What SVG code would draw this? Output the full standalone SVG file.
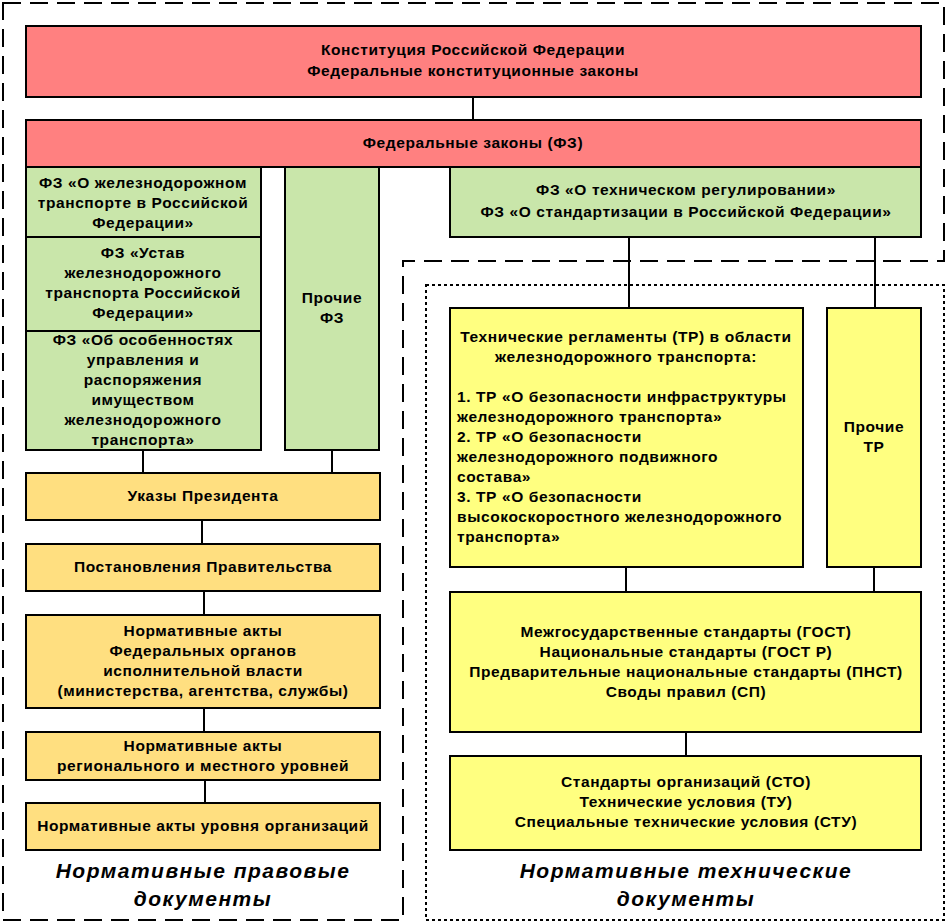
<svg xmlns="http://www.w3.org/2000/svg" width="947" height="924" viewBox="0 0 947 924">
<style>
.b{stroke:#000;stroke-width:2}
.red{fill:#FF8080}
.grn{fill:#C9E6AA}
.org{fill:#FFDF80}
.yel{fill:#FFFF80}
text{font-family:"Liberation Sans",Arial,sans-serif;font-weight:bold;font-size:15.5px;letter-spacing:0.6px;fill:#000}
.c{text-anchor:middle}
.lbl{font-size:21px;letter-spacing:1.5px;font-style:italic;text-anchor:middle}
.ln{stroke:#000;stroke-width:2;fill:none}
</style>
<rect width="947" height="924" fill="#fff"/>
<g id="frames">
<path d="M3,3 H944 V261 H403 V920 H3 Z" fill="none" stroke="#000" stroke-width="2" stroke-dasharray="18,9"/>
<rect x="426" y="285" width="518" height="635" fill="none" stroke="#000" stroke-width="2" stroke-dasharray="3,3"/>
</g>
<g id="connectors">
<line class="ln" x1="473" y1="97" x2="473" y2="120"/>
<line class="ln" x1="143" y1="450" x2="143" y2="473"/>
<line class="ln" x1="332" y1="450" x2="332" y2="473"/>
<line class="ln" x1="202" y1="520" x2="202" y2="544"/>
<line class="ln" x1="204" y1="591" x2="204" y2="615"/>
<line class="ln" x1="204" y1="708" x2="204" y2="732"/>
<line class="ln" x1="205" y1="780" x2="205" y2="803"/>
<line class="ln" x1="629" y1="237" x2="629" y2="308"/>
<line class="ln" x1="875" y1="237" x2="875" y2="308"/>
<line class="ln" x1="626" y1="567" x2="626" y2="592"/>
<line class="ln" x1="874" y1="567" x2="874" y2="592"/>
<line class="ln" x1="686" y1="732" x2="686" y2="756"/>
</g>
<g id="constitution">
<rect class="b red" x="26" y="26" width="895" height="71"/>
<text class="c" x="473" y="55">Конституция Российской Федерации</text>
<text class="c" x="473" y="76">Федеральные конституционные законы</text>
</g>
<g id="fz">
<rect class="b red" x="26" y="120" width="895" height="47"/>
<text class="c" x="473" y="148">Федеральные законы (ФЗ)</text>
</g>
<g id="fz-rail">
<rect class="b grn" x="26" y="167" width="235" height="70"/>
<text class="c" x="143" y="188">ФЗ «О железнодорожном</text>
<text class="c" x="143" y="208">транспорте в Российской</text>
<text class="c" x="143" y="228">Федерации»</text>
</g>
<g id="fz-ustav">
<rect class="b grn" x="26" y="237" width="235" height="94"/>
<text class="c" x="143" y="258">ФЗ «Устав</text>
<text class="c" x="143" y="278">железнодорожного</text>
<text class="c" x="143" y="298">транспорта Российской</text>
<text class="c" x="143" y="318">Федерации»</text>
</g>
<g id="fz-property">
<rect class="b grn" x="26" y="331" width="235" height="119"/>
<text class="c" x="143" y="345">ФЗ «Об особенностях</text>
<text class="c" x="143" y="365">управления и</text>
<text class="c" x="143" y="385">распоряжения</text>
<text class="c" x="143" y="405">имуществом</text>
<text class="c" x="143" y="425">железнодорожного</text>
<text class="c" x="143" y="445">транспорта»</text>
</g>
<g id="fz-other">
<rect class="b grn" x="285" y="167" width="94" height="283"/>
<text class="c" x="332" y="303">Прочие</text>
<text class="c" x="332" y="323">ФЗ</text>
</g>
<g id="fz-tech">
<rect class="b grn" x="450" y="167" width="471" height="70"/>
<text class="c" x="686" y="195">ФЗ «О техническом регулировании»</text>
<text class="c" x="686" y="217">ФЗ «О стандартизации в Российской Федерации»</text>
</g>
<g id="ukazy">
<rect class="b org" x="26" y="473" width="354" height="47"/>
<text class="c" x="203" y="501">Указы Президента</text>
</g>
<g id="postanovleniya">
<rect class="b org" x="26" y="544" width="354" height="47"/>
<text class="c" x="203" y="572">Постановления Правительства</text>
</g>
<g id="federal-acts">
<rect class="b org" x="26" y="615" width="354" height="93"/>
<text class="c" x="203" y="636">Нормативные акты</text>
<text class="c" x="203" y="656">Федеральных органов</text>
<text class="c" x="203" y="676">исполнительной власти</text>
<text class="c" x="203" y="696">(министерства, агентства, службы)</text>
</g>
<g id="regional-acts">
<rect class="b org" x="26" y="732" width="354" height="48"/>
<text class="c" x="203" y="751">Нормативные акты</text>
<text class="c" x="203" y="771">регионального и местного уровней</text>
</g>
<g id="org-acts">
<rect class="b org" x="26" y="803" width="354" height="47"/>
<text class="c" x="203" y="831">Нормативные акты уровня организаций</text>
</g>
<g id="legal-label">
<text class="lbl" x="203" y="878">Нормативные правовые</text>
<text class="lbl" x="203" y="906">документы</text>
</g>
<g id="tr">
<rect class="b yel" x="450" y="308" width="353" height="259"/>
<text class="c" x="626" y="342">Технические регламенты (ТР) в области</text>
<text class="c" x="626" y="362">железнодорожного транспорта:</text>
<text x="457" y="402">1. ТР «О безопасности инфраструктуры</text>
<text x="457" y="422">железнодорожного транспорта»</text>
<text x="457" y="442">2. ТР «О безопасности</text>
<text x="457" y="462">железнодорожного подвижного</text>
<text x="457" y="482">состава»</text>
<text x="457" y="502">3. ТР «О безопасности</text>
<text x="457" y="522">высокоскоростного железнодорожного</text>
<text x="457" y="542">транспорта»</text>
</g>
<g id="tr-other">
<rect class="b yel" x="827" y="308" width="94" height="259"/>
<text class="c" x="874" y="432">Прочие</text>
<text class="c" x="874" y="452">ТР</text>
</g>
<g id="gost">
<rect class="b yel" x="450" y="592" width="471" height="140"/>
<text class="c" x="686" y="637">Межгосударственные стандарты (ГОСТ)</text>
<text class="c" x="686" y="657">Национальные стандарты (ГОСТ Р)</text>
<text class="c" x="686" y="677">Предварительные национальные стандарты (ПНСТ)</text>
<text class="c" x="686" y="697">Своды правил (СП)</text>
</g>
<g id="sto">
<rect class="b yel" x="450" y="756" width="471" height="94"/>
<text class="c" x="686" y="787">Стандарты организаций (СТО)</text>
<text class="c" x="686" y="807">Технические условия (ТУ)</text>
<text class="c" x="686" y="827">Специальные технические условия (СТУ)</text>
</g>
<g id="tech-label">
<text class="lbl" x="686" y="878">Нормативные технические</text>
<text class="lbl" x="686" y="906">документы</text>
</g>
</svg>
